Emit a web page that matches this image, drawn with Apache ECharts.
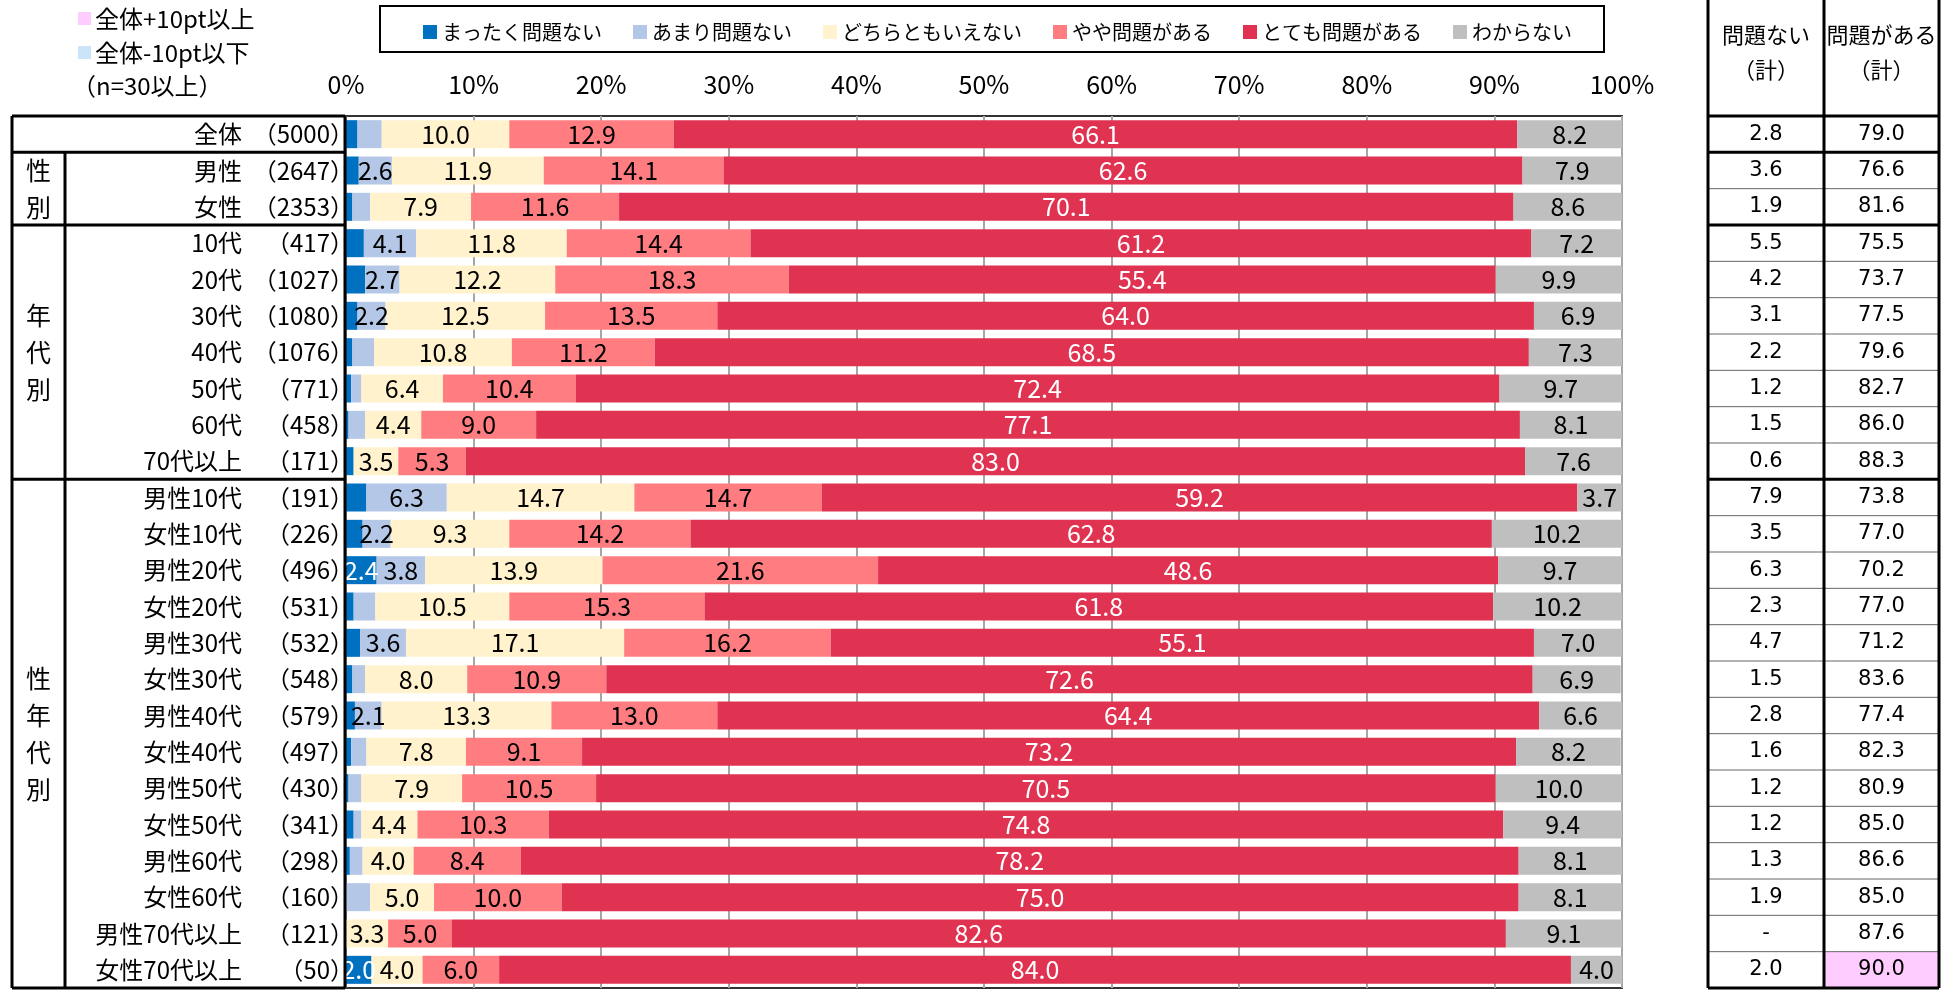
<!DOCTYPE html>
<html>
<head>
<meta charset="utf-8">
<script src="https://cdn.jsdelivr.net/npm/echarts@6/dist/echarts.min.js"></script>
<style>
html, body { margin: 0; padding: 0; background: #ffffff; }
#chart { width: 1953px; height: 992px; }
</style>
</head>
<body>
<div id="chart"></div>
<script>
// 属性別の回答分布（%）
const categories = ['全体', '男性', '女性', '10代', '20代', '30代', '40代', '50代', '60代', '70代以上',
  '男性10代', '女性10代', '男性20代', '女性20代', '男性30代', '女性30代', '男性40代', '女性40代',
  '男性50代', '女性50代', '男性60代', '女性60代', '男性70代以上', '女性70代以上'];
const sampleSizes = [5000, 2647, 2353, 417, 1027, 1080, 1076, 771, 458, 171,
  191, 226, 496, 531, 532, 548, 579, 497, 430, 341, 298, 160, 121, 50];

const seriesNames = ['まったく問題ない', 'あまり問題ない', 'どちらともいえない', 'やや問題がある', 'とても問題がある', 'わからない'];
const notAtAll  = [0.9, 1.0, 0.5, 1.4, 1.5, 0.9, 0.5, 0.4, 0.2, 0.6, 1.6, 1.3, 2.4, 0.6, 1.1, 0.5, 0.7, 0.4, 0.2, 0.6, 0.3, 0.0, 0.0, 2.0];
const notMuch   = [1.9, 2.6, 1.4, 4.1, 2.7, 2.2, 1.7, 0.8, 1.3, 0.0, 6.3, 2.2, 3.8, 1.7, 3.6, 1.0, 2.1, 1.2, 1.0, 0.6, 1.0, 1.9, 0.0, 0.0];
const neutral   = [10.0, 11.9, 7.9, 11.8, 12.2, 12.5, 10.8, 6.4, 4.4, 3.5, 14.7, 9.3, 13.9, 10.5, 17.1, 8.0, 13.3, 7.8, 7.9, 4.4, 4.0, 5.0, 3.3, 4.0];
const somewhat  = [12.9, 14.1, 11.6, 14.4, 18.3, 13.5, 11.2, 10.4, 9.0, 5.3, 14.7, 14.2, 21.6, 15.3, 16.2, 10.9, 13.0, 9.1, 10.5, 10.3, 8.4, 10.0, 5.0, 6.0];
const very      = [66.1, 62.6, 70.1, 61.2, 55.4, 64.0, 68.5, 72.4, 77.1, 83.0, 59.2, 62.8, 48.6, 61.8, 55.1, 72.6, 64.4, 73.2, 70.5, 74.8, 78.2, 75.0, 82.6, 84.0];
const unknown   = [8.2, 7.9, 8.6, 7.2, 9.9, 6.9, 7.3, 9.7, 8.1, 7.6, 3.7, 10.2, 9.7, 10.2, 7.0, 6.9, 6.6, 8.2, 10.0, 9.4, 8.1, 8.1, 9.1, 4.0];

// 集計列
const noProblemTotal = ['2.8', '3.6', '1.9', '5.5', '4.2', '3.1', '2.2', '1.2', '1.5', '0.6',
  '7.9', '3.5', '6.3', '2.3', '4.7', '1.5', '2.8', '1.6', '1.2', '1.2', '1.3', '1.9', '-', '2.0'];
const problemTotal = ['79.0', '76.6', '81.6', '75.5', '73.7', '77.5', '79.6', '82.7', '86.0', '88.3',
  '73.8', '77.0', '70.2', '77.0', '71.2', '83.6', '77.4', '82.3', '80.9', '85.0', '86.6', '85.0', '87.6', '90.0'];
const totalHeaders = ['問題ない\n（計）', '問題がある\n（計）'];
// 全体+10pt以上のセル [行, 列]
const highlightPlus = [[23, 1]];
const highlightMinus = [];

// 行グループ（表の区切り）
const groupLabels = ['性\n別', '年\n代\n別', '性\n年\n代\n別'];
const groupStarts = [1, 3, 10];
const groupEnds = [2, 9, 23];

const colors = ['#0070C0', '#B4C7E7', '#FFF2CC', '#FF7C80', '#E03352', '#BFBFBF'];
const labelColors = ['#ffffff', '#000000', '#000000', '#000000', '#ffffff', '#000000'];
const seriesData = [notAtAll, notMuch, neutral, somewhat, very, unknown];

const FONT = '"Noto Sans CJK JP", "Noto Sans", sans-serif';
const NUMFONT = '"DejaVu Sans", Verdana, sans-serif';

const chart = echarts.init(document.getElementById('chart'), null, { renderer: 'canvas' });

const gridLeft = 346, gridRight = 1622, gridTop = 116, gridBottom = 988;

chart.setOption({
  backgroundColor: '#ffffff',
  animation: false,
  textStyle: { fontFamily: FONT },
  legend: {
    data: seriesNames,
    left: 418,
    top: 17,
    icon: 'rect',
    itemWidth: 14,
    itemHeight: 14,
    itemGap: 31,
    textStyle: { fontFamily: FONT, fontSize: 20, color: '#000' }
  },
  grid: {
    left: gridLeft,
    right: 1953 - gridRight,
    top: gridTop,
    bottom: 992 - gridBottom,
    show: true,
    borderColor: '#333333',
    borderWidth: 2,
    backgroundColor: 'transparent'
  },
  xAxis: {
    type: 'value',
    position: 'top',
    min: 0,
    max: 100,
    interval: 10,
    axisLine: { show: false },
    axisTick: { show: false },
    axisLabel: {
      formatter: '{value}%',
      fontFamily: FONT,
      fontSize: 25,
      color: '#000',
      margin: 19
    },
    splitLine: { show: true, lineStyle: { color: '#A6A6A6', width: 2 } }
  },
  yAxis: {
    type: 'category',
    data: categories,
    inverse: true,
    axisLine: { show: false },
    axisTick: { show: false },
    axisLabel: {
      margin: -8,
      formatter: function (v, i) {
        return '{a|' + v + '}{b|（' + sampleSizes[i] + '）}';
      },
      rich: {
        a: { fontFamily: FONT, fontSize: 24, color: '#000' },
        b: { fontFamily: FONT, fontSize: 24, color: '#000', width: 112, align: 'right' }
      }
    }
  },
  series: seriesNames.map(function (name, k) {
    return {
      name: name,
      type: 'bar',
      stack: 'total',
      barWidth: 28,
      itemStyle: { color: colors[k] },
      label: {
        show: true,
        position: 'inside',
        fontFamily: FONT,
        fontSize: 25,
        color: labelColors[k],
        formatter: function (p) { return p.value >= 2 ? p.value.toFixed(1) : ''; }
      },
      emphasis: { disabled: true },
      data: seriesData[k]
    };
  })
});

// 表（左の属性欄と右の集計欄）
function rowCenter(i) { return chart.convertToPixel({ yAxisIndex: 0 }, i); }
const band = rowCenter(1) - rowCenter(0);
function rowTop(i) { return rowCenter(i) - band / 2; }
function rowBottom(i) { return rowCenter(i) + band / 2; }

const graphics = [];
function line(x1, y1, x2, y2, w, c) {
  graphics.push({ type: 'line', z: 50, shape: { x1: x1, y1: y1, x2: x2, y2: y2 },
    style: { stroke: c || '#000', lineWidth: w } });
}
function text(x, y, s, opts) {
  graphics.push({ type: 'text', z: 60, x: x, y: y,
    style: Object.assign({ text: s, fill: '#000', font: '20px ' + FONT, textAlign: 'center', textVerticalAlign: 'middle' }, opts || {}) });
}

// 凡例の枠
graphics.push({ type: 'rect', z: 40, shape: { x: 380, y: 6, width: 1224, height: 46 },
  style: { fill: 'none', stroke: '#000', lineWidth: 2 } });

// 強調表示の説明
graphics.push({ type: 'rect', z: 40, shape: { x: 78, y: 12, width: 13, height: 13 }, style: { fill: '#FFCCFF' } });
text(95, 19, '全体+10pt以上', { textAlign: 'left', font: '24px ' + FONT });
graphics.push({ type: 'rect', z: 40, shape: { x: 78, y: 46, width: 13, height: 13 }, style: { fill: '#CCE4FA' } });
text(95, 53, '全体-10pt以下', { textAlign: 'left', font: '24px ' + FONT });
text(72, 86, '（n=30以上）', { textAlign: 'left', font: '24px ' + FONT });

// 左の表
const tLeft = 12, tInner = 65, tRight = 345;
const tTop = rowTop(0), tBottom = rowBottom(categories.length - 1);
line(tLeft, tTop, tRight, tTop, 3);
line(tLeft, tBottom, tRight, tBottom, 3);
line(tLeft, tTop, tLeft, tBottom, 3);
line(tRight, tTop, tRight, tBottom, 3);
groupStarts.forEach(function (s, g) {
  const y0 = rowTop(s), y1 = rowBottom(groupEnds[g]);
  line(tLeft, y0, tRight, y0, 3);
  line(tInner, y0, tInner, y1, 3);
  text((tLeft + tInner) / 2, (y0 + y1) / 2, groupLabels[g], { font: '25px ' + FONT, lineHeight: 37 });
});

// 右の集計表
const cx0 = 1708, cx1 = 1824, cx2 = 1939;
const colCenters = [(cx0 + cx1) / 2, (cx1 + cx2) / 2];
const columns = [noProblemTotal, problemTotal];
highlightPlus.forEach(function (h) {
  const xs = [cx0, cx1, cx2];
  graphics.push({ type: 'rect', z: 30, shape: { x: xs[h[1]], y: rowTop(h[0]), width: xs[h[1] + 1] - xs[h[1]], height: band },
    style: { fill: '#FFCCFF' } });
});
highlightMinus.forEach(function (h) {
  const xs = [cx0, cx1, cx2];
  graphics.push({ type: 'rect', z: 30, shape: { x: xs[h[1]], y: rowTop(h[0]), width: xs[h[1] + 1] - xs[h[1]], height: band },
    style: { fill: '#CCE4FA' } });
});
totalHeaders.forEach(function (h, c) {
  text(colCenters[c], 52, h, { font: '22px ' + FONT, lineHeight: 35 });
});
const thickRows = [0].concat(groupStarts);
for (let i = 0; i < categories.length; i++) {
  const yT = rowTop(i);
  if (thickRows.indexOf(i) >= 0) line(cx0, yT, cx2, yT, 3);
  else line(cx0, yT, cx2, yT, 1, '#666666');
  columns.forEach(function (col, c) {
    text(colCenters[c], rowCenter(i), col[i], { font: '21px ' + NUMFONT });
  });
}
line(cx0, tBottom, cx2, tBottom, 3);
[cx0, cx1, cx2].forEach(function (x) { line(x, 0, x, tBottom, 3); });

chart.setOption({ graphic: graphics });
</script>
</body>
</html>
